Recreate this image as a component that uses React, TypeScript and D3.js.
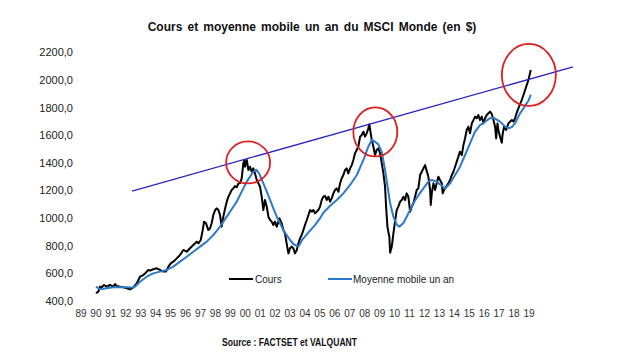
import React from "react";
import * as d3 from "d3";

// ---- Data ----
const coursDates = [
  1990.0, 1990.16, 1990.27, 1990.38, 1990.54, 1990.72, 1990.94, 1991.17, 1991.28, 1991.39,
  1991.61, 1991.84, 1992.06, 1992.28, 1992.51, 1992.73, 1992.95, 1993.17, 1993.29, 1993.51,
  1993.62, 1993.84, 1994.07, 1994.29, 1994.51, 1994.69, 1994.85, 1995.01, 1995.18, 1995.41,
  1995.63, 1995.85, 1996.08, 1996.3, 1996.52, 1996.75, 1996.86, 1997.02, 1997.15, 1997.24,
  1997.37, 1997.53, 1997.64, 1997.75, 1997.86, 1997.98, 1998.09, 1998.2, 1998.31, 1998.42,
  1998.53, 1998.65, 1998.76, 1998.87, 1998.98, 1999.09, 1999.2, 1999.31, 1999.43, 1999.54,
  1999.65, 1999.76, 1999.87, 1999.94, 1999.98, 2000.1, 2000.21, 2000.32, 2000.43, 2000.54,
  2000.65, 2000.77, 2000.88, 2000.99, 2001.1, 2001.21, 2001.32, 2001.44, 2001.55, 2001.66,
  2001.77, 2001.88, 2001.99, 2002.11, 2002.29, 2002.44, 2002.55, 2002.66, 2002.77, 2002.89,
  2003.0, 2003.11, 2003.22, 2003.33, 2003.45, 2003.56, 2003.67, 2003.78, 2003.89, 2004.0,
  2004.12, 2004.23, 2004.34, 2004.45, 2004.56, 2004.67, 2004.78, 2004.89, 2005.01, 2005.12,
  2005.23, 2005.34, 2005.45, 2005.57, 2005.68, 2005.79, 2005.9, 2006.01, 2006.12, 2006.24,
  2006.35, 2006.46, 2006.57, 2006.68, 2006.79, 2006.9, 2007.02, 2007.13, 2007.24, 2007.35,
  2007.46, 2007.57, 2007.69, 2007.8, 2007.91, 2008.02, 2008.13, 2008.24, 2008.31, 2008.4,
  2008.47, 2008.58, 2008.69, 2008.8, 2008.91, 2009.03, 2009.14, 2009.25, 2009.36, 2009.43,
  2009.52, 2009.58, 2009.65, 2009.7, 2009.81, 2009.92, 2010.03, 2010.14, 2010.25, 2010.37,
  2010.48, 2010.59, 2010.7, 2010.81, 2010.92, 2011.04, 2011.15, 2011.26, 2011.37, 2011.48,
  2011.59, 2011.71, 2011.82, 2011.93, 2012.04, 2012.1, 2012.2, 2012.26, 2012.38, 2012.42,
  2012.49, 2012.6, 2012.71, 2012.82, 2012.93, 2013.04, 2013.16, 2013.22, 2013.31, 2013.45,
  2013.6, 2013.72, 2013.83, 2013.94, 2014.05, 2014.16, 2014.27, 2014.38, 2014.5, 2014.61,
  2014.72, 2014.83, 2014.94, 2015.05, 2015.17, 2015.28, 2015.39, 2015.5, 2015.61, 2015.72,
  2015.84, 2015.95, 2016.06, 2016.17, 2016.28, 2016.39, 2016.51, 2016.62, 2016.73, 2016.8,
  2016.89, 2016.95, 2017.06, 2017.18, 2017.24, 2017.33, 2017.47, 2017.62, 2017.73, 2017.85,
  2017.96, 2018.07, 2018.18, 2018.29, 2018.47, 2018.63, 2018.81, 2018.96, 2019.12,
];
const coursValues = [
  456, 468, 504, 499, 516, 504, 516, 504, 523, 509,
  504, 499, 492, 484, 499, 528, 576, 588, 600, 625,
  620, 630, 637, 625, 613, 613, 649, 673, 685, 709,
  733, 770, 757, 782, 806, 830, 818, 842, 914, 975,
  963, 914, 927, 963, 1023, 1059, 1071, 1059, 1023, 939,
  1011, 1071, 1120, 1156, 1180, 1204, 1216, 1233, 1224, 1253,
  1253, 1289, 1398, 1422, 1373, 1422, 1349, 1373, 1337, 1361,
  1325, 1277, 1253, 1228, 1156, 1059, 1132, 1083, 1011, 987,
  975, 951, 975, 939, 999, 963, 914, 890, 818, 745,
  782, 794, 782, 745, 770, 818, 854, 878, 914, 951,
  987, 1023, 1059, 1047, 1059, 1035, 1047, 1059, 1084, 1132,
  1156, 1161, 1132, 1156, 1120, 1144, 1180, 1204, 1216, 1192,
  1253, 1289, 1313, 1349, 1361, 1325, 1361, 1385, 1422, 1470,
  1494, 1518, 1591, 1603, 1627, 1591, 1615, 1651, 1680, 1615,
  1567, 1518, 1458, 1494, 1506, 1470, 1398, 1325, 1229, 1084,
  939, 902, 866, 750, 794, 890, 975, 1059, 1084, 1120,
  1132, 1156, 1132, 1180, 1156, 1047, 1084, 1108, 1156, 1204,
  1216, 1313, 1337, 1361, 1385, 1361, 1325, 1301, 1204, 1096,
  1180, 1253, 1204, 1253, 1301, 1277, 1253, 1180, 1204, 1228,
  1253, 1277, 1313, 1337, 1373, 1410, 1446, 1482, 1458, 1530,
  1579, 1639, 1663, 1615, 1687, 1711, 1736, 1724, 1748, 1711,
  1736, 1687, 1724, 1748, 1760, 1772, 1755, 1711, 1663, 1579,
  1687, 1639, 1591, 1547, 1615, 1663, 1639, 1687, 1699, 1711,
  1700, 1724, 1765, 1796, 1844, 1893, 1953, 2001, 2074,
];

const maDates = [
  1990.0, 1990.27, 1990.72, 1991.17, 1991.61, 1992.06, 1992.39, 1992.62, 1992.95, 1993.4,
  1993.84, 1994.29, 1994.74, 1995.18, 1995.63, 1996.08, 1996.52, 1996.97, 1997.42, 1997.86,
  1998.31, 1998.53, 1998.76, 1998.98, 1999.2, 1999.43, 1999.65, 1999.87, 2000.1, 2000.32,
  2000.54, 2000.75, 2000.95, 2001.21, 2001.44, 2001.66, 2001.88, 2002.11, 2002.33, 2002.55,
  2002.77, 2003.0, 2003.22, 2003.45, 2003.62, 2003.78, 2004.22, 2004.67, 2005.01, 2005.23,
  2005.68, 2006.13, 2006.57, 2007.02, 2007.47, 2007.91, 2008.24, 2008.47, 2008.69, 2008.91,
  2009.14, 2009.36, 2009.52, 2009.7, 2009.92, 2010.14, 2010.32, 2010.59, 2010.81, 2011.04,
  2011.26, 2011.59, 2011.93, 2012.26, 2012.49, 2012.82, 2013.16, 2013.38, 2013.72, 2014.05,
  2014.38, 2014.72, 2015.05, 2015.39, 2015.72, 2016.06, 2016.39, 2016.62, 2016.84, 2017.06,
  2017.25, 2017.45, 2017.65, 2017.85, 2018.05, 2018.18, 2018.4, 2018.63, 2018.81, 2018.96,
  2019.12,
];
const maValues = [
  504, 485, 492, 499, 499, 499, 497, 504, 540, 576,
  600, 613, 625, 649, 685, 721, 757, 794, 830, 878,
  939, 975, 1011, 1047, 1083, 1120, 1168, 1216, 1265, 1301,
  1337, 1350, 1320, 1253, 1192, 1132, 1071, 1011, 963, 914,
  878, 842, 813, 800, 803, 840, 895, 950, 1000, 1040,
  1090, 1132, 1180, 1241, 1313, 1422, 1518, 1567, 1554, 1535,
  1480, 1349, 1235, 1108, 1011, 955, 938, 965, 1010, 1060,
  1110, 1165, 1216, 1265, 1277, 1265, 1235, 1215, 1253, 1313,
  1373, 1458, 1542, 1627, 1675, 1699, 1725, 1728, 1715, 1700,
  1680, 1660, 1652, 1660, 1685, 1712, 1760, 1796, 1827, 1851,
  1895,
];

const trendDates = [1992.42, 2021.95];
const trendValues = [1197, 2096];

const highlightDates = [2000.19, 2008.71, 2018.99];
const highlightValues = [1404, 1625, 2038];

const yTicks = [400, 600, 800, 1000, 1200, 1400, 1600, 1800, 2000, 2200];
const xTickYears = [
  1989, 1990, 1991, 1992, 1993, 1994, 1995, 1996, 1997, 1998, 1999, 2000, 2001, 2002, 2003,
  2004, 2005, 2006, 2007, 2008, 2009, 2010, 2011, 2012, 2013, 2014, 2015, 2016, 2017, 2018, 2019,
];
const xTickLabels = [
  "89", "90", "91", "92", "93", "94", "95", "96", "97", "98", "99", "00", "01", "02", "03",
  "04", "05", "06", "07", "08", "09", "10", "11", "12", "13", "14", "15", "16", "17", "18", "19",
];

const seriesNames = ["Cours", "Moyenne mobile un an"];
const title = "Cours et moyenne mobile un an du MSCI Monde (en $)";
const source = "Source : FACTSET et VALQUANT";

// ---- Styling ----
const W = 630;
const H = 355;
const FONT = "'Liberation Sans', Arial, sans-serif";
const BLACK = "#000000";
const BLUE = "#2c7ac9";
const TREND = "#2b22c6";
const RED = "#e01f1f";
const circleRadii = [
  [22, 21],
  [22, 24.5],
  [27, 31],
];

const locale = d3.formatLocale({
  decimal: ",",
  thousands: "",
  grouping: [3],
  currency: ["", ""],
});
const fmt = locale.format(".1f");

export default function App() {
  const x = d3.scaleLinear().domain([1989, 2019]).range([81, 529]);
  const y = d3.scaleLinear().domain([400, 2200]).range([301, 52.6]);

  const line = d3
    .line<[number, number]>()
    .x((d) => x(d[0]))
    .y((d) => y(d[1]));

  const cours = coursDates.map((d, i) => [d, coursValues[i]] as [number, number]);
  const ma = maDates.map((d, i) => [d, maValues[i]] as [number, number]);
  const trend = trendDates.map((d, i) => [d, trendValues[i]] as [number, number]);

  return (
    <svg
      width={W}
      height={H}
      viewBox={`0 0 ${W} ${H}`}
      style={{ position: "absolute", left: 0, top: 0, background: "#fff" }}
      fontFamily={FONT}
    >
      <rect x={0} y={0} width={W} height={H} fill="#fff" />
      <text
        x={312}
        y={31}
        textAnchor="middle"
        fontSize={12}
        fontWeight="bold"
        wordSpacing={1.8}
        fill="#111"
      >
        {title}
      </text>

      {yTicks.map((t) => (
        <text
          key={t}
          x={73}
          y={y(t)}
          dy="0.35em"
          textAnchor="end"
          fontSize={11}
          fill="#222"
        >
          {fmt(t)}
        </text>
      ))}

      {xTickYears.map((t, i) => (
        <text
          key={t}
          x={x(t)}
          y={313.5}
          dy="0.35em"
          textAnchor="middle"
          fontSize={10}
          fill="#333"
        >
          {xTickLabels[i]}
        </text>
      ))}

      <path
        d={line(cours) || ""}
        fill="none"
        stroke={BLACK}
        strokeWidth={2}
        strokeLinejoin="round"
      />
      <path
        d={line(ma) || ""}
        fill="none"
        stroke={BLUE}
        strokeWidth={2}
        strokeLinejoin="round"
      />
      <path d={line(trend) || ""} fill="none" stroke={TREND} strokeWidth={1.3} />

      {highlightDates.map((d, i) => (
        <ellipse
          key={d}
          cx={x(d)}
          cy={y(highlightValues[i])}
          rx={circleRadii[i][0]}
          ry={circleRadii[i][1]}
          fill="none"
          stroke={RED}
          strokeWidth={1.8}
        />
      ))}

      {/* Legend */}
      <line x1={229} x2={253} y1={279} y2={279} stroke={BLACK} strokeWidth={2} />
      <text x={255} y={279} dy="0.35em" fontSize={10} fill="#222">
        {seriesNames[0]}
      </text>
      <line x1={328} x2={352} y1={279} y2={279} stroke={BLUE} strokeWidth={2} />
      <text x={353} y={279} dy="0.35em" fontSize={10} fill="#222">
        {seriesNames[1]}
      </text>

      <text
        x={289.5}
        y={342}
        dy="0.35em"
        textAnchor="middle"
        fontSize={10}
        fontWeight="bold"
        textLength={135}
        lengthAdjust="spacingAndGlyphs"
        fill="#111"
      >
        {source}
      </text>
    </svg>
  );
}
